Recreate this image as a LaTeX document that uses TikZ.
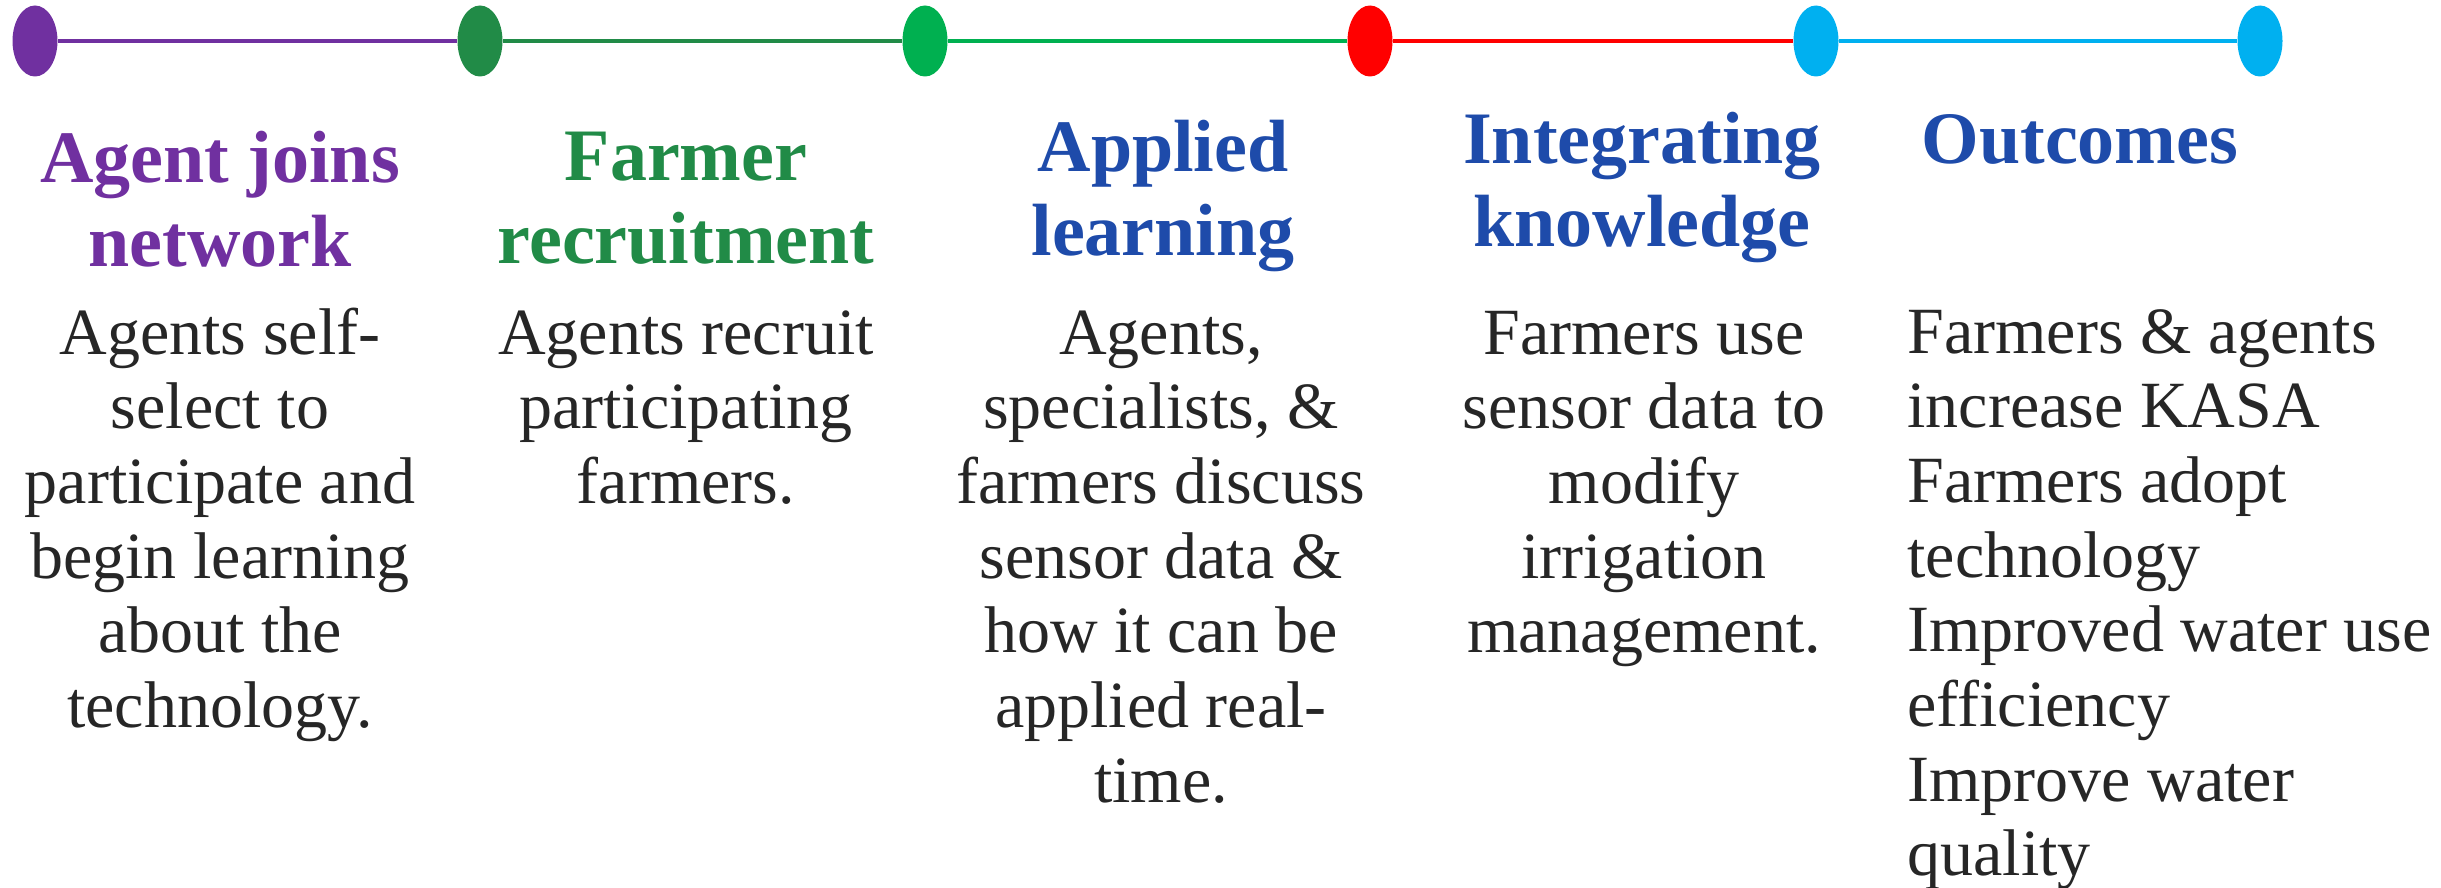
\documentclass[tikz,border=0pt]{standalone}
\usepackage{fontspec}
\setmainfont{Liberation Serif}
\usetikzlibrary{shapes.geometric}

\definecolor{tlpurple}{RGB}{112,48,160}
\definecolor{tldkgreen}{RGB}{33,139,71}
\definecolor{tlgreen}{RGB}{0,176,80}
\definecolor{tlred}{RGB}{255,0,0}
\definecolor{tlcyan}{RGB}{0,176,240}
\definecolor{tlblue}{RGB}{30,75,170}
\definecolor{bodygray}{RGB}{38,38,38}

\begin{document}
\begin{tikzpicture}[x=0.5pt,y=-0.5pt,
  milestone/.style={ellipse, fill=#1, draw=none, minimum width=22.5pt,
                    minimum height=35.5pt, inner sep=0pt},
  link/.style={draw=#1, line width=2.2pt},
  head/.style={text=#1, font=\fontsize{37}{41}\selectfont\bfseries,
               inner sep=0pt, anchor=base},
  body/.style={text=bodygray, font=\fontsize{33}{37}\selectfont,
               inner sep=0pt, anchor=base},
]
\useasboundingbox (0,0) rectangle (2441,888);

% timeline markers
\node[milestone=tlpurple]  (m1) at (35,41)   {};
\node[milestone=tldkgreen] (m2) at (480,41)  {};
\node[milestone=tlgreen]   (m3) at (925,41)  {};
\node[milestone=tlred]     (m4) at (1370,41) {};
\node[milestone=tlcyan]    (m5) at (1816,41) {};
\node[milestone=tlcyan]    (m6) at (2260,41) {};

% segments between markers
\draw[link=tlpurple]  (m1) -- (m2);
\draw[link=tldkgreen] (m2) -- (m3);
\draw[link=tlgreen]   (m3) -- (m4);
\draw[link=tlred]     (m4) -- (m5);
\draw[link=tlcyan]    (m5) -- (m6);

% stage titles
\node[head=tlpurple]  (h1a) at (220,183)  {Agent joins};
\node[head=tlpurple]  (h1b) at (220,266)  {network};
\node[head=tldkgreen] (h2a) at (686,180)  {Farmer};
\node[head=tldkgreen] (h2b) at (686,263)  {recruitment};
\node[head=tlblue]    (h3a) at (1163,171) {Applied};
\node[head=tlblue]    (h3b) at (1163,255) {learning};
\node[head=tlblue]    (h4a) at (1642,163) {Integrating};
\node[head=tlblue]    (h4b) at (1642,246) {knowledge};
\node[head=tlblue]    (h5a) at (2080,163) {Outcomes};

% stage descriptions
\foreach \t [count=\i] in {Agents self-, select to, participate and,
    begin learning, about the, technology.}
  \node[body] (b1-\i) at (220,{354+74.7*(\i-1)}) {\t};

\foreach \t [count=\i] in {Agents recruit, participating, farmers.}
  \node[body] (b2-\i) at (686,{354+74.7*(\i-1)}) {\t};

\foreach \t [count=\i] in {{Agents,}, {specialists, \&}, farmers discuss,
    sensor data \&, how it can be, applied real-, time.}
  \node[body] (b3-\i) at (1161,{354+74.7*(\i-1)}) {\t};

\foreach \t [count=\i] in {Farmers use, sensor data to, modify,
    irrigation, management.}
  \node[body] (b4-\i) at (1644,{354+74.7*(\i-1)}) {\t};

\foreach \t [count=\i] in {Farmers \& agents, increase KASA, Farmers adopt,
    technology, Improved water use, efficiency, Improve water, quality}
  \node[body, anchor=base west] (b5-\i) at (1907,{353+74.7*(\i-1)}) {\t};
\end{tikzpicture}
\end{document}
